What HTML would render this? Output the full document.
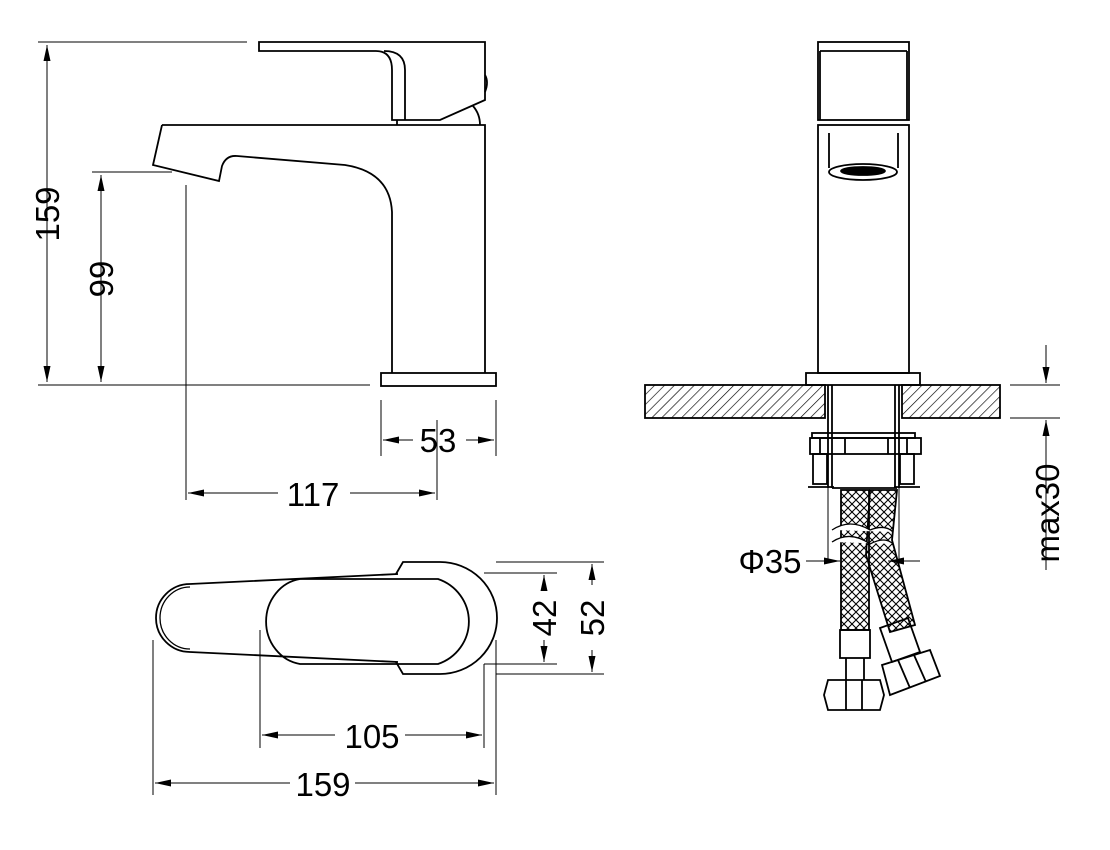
<!DOCTYPE html>
<html><head><meta charset="utf-8"><style>
html,body{margin:0;padding:0;background:#fff}
svg{display:block}
text{font-family:"Liberation Sans",Arial,sans-serif;fill:#000}
</style></head><body>
<svg width="1110" height="850" viewBox="0 0 1110 850" xmlns="http://www.w3.org/2000/svg">
<defs>
<pattern id="h" width="7" height="7" patternUnits="userSpaceOnUse" patternTransform="rotate(45)">
<line x1="0" y1="0" x2="0" y2="7" stroke="#000" stroke-width="1.3"/>
</pattern>
<pattern id="br" width="8" height="8" patternUnits="userSpaceOnUse">
<path d="M0 4 L4 0 M4 8 L8 4 M4 0 L8 4 M0 4 L4 8" stroke="#000" stroke-width="1.1" fill="none"/>
</pattern>
<marker id="a" viewBox="0 0 16 10" refX="16" refY="5" markerWidth="16" markerHeight="10" orient="auto-start-reverse" markerUnits="userSpaceOnUse">
<path d="M0 1.5 L16 5 L0 8.5 Z" fill="#000"/></marker>
</defs>
<g fill="none" stroke="#000" stroke-width="1.8">
<!-- side view -->
<path d="M259 42 H485 V100 L440 120 H392 V70 Q392 51 376 51 H259 Z"/>
<path d="M384 51 Q405 51 405 70 V120"/>
<path d="M485 75 Q489 82 485 92"/>
<path d="M473 106 Q480 114 480 125"/>
<path d="M397 120 V125"/>
<path d="M162 125 H485 V373"/>
<path d="M162 125 L153 165 L219 181 L222 166 Q226 155 237 156 L345 165 Q390 172 392 212 V373"/>
<rect x="381" y="373" width="115" height="13"/>
<!-- front view -->
<rect x="818" y="42" width="91" height="78"/>
<path d="M820 51 V120 M907 51 V120 M820 51 H907"/>
<rect x="818" y="125" width="91" height="248"/>
<path d="M829 133 V168 M898 133 V168"/>
<ellipse cx="863" cy="172" rx="34" ry="8"/>
<ellipse cx="863" cy="171" rx="22" ry="4" fill="#000"/>
<rect x="806" y="373" width="114" height="12"/>
<rect x="645" y="385" width="180" height="33" fill="url(#h)"/>
<rect x="902" y="385" width="98" height="33" fill="url(#h)"/>
<path d="M828 385 V488 M899 385 V488 M832 385 V488 M895 385 V488"/>
<rect x="812" y="433" width="103" height="5"/>
<rect x="810" y="438" width="111" height="16"/>
<path d="M820 438 V454 M907 438 V454 M845 438 V454 M888 438 V454"/>
<rect x="813" y="454" width="14" height="30"/>
<rect x="900" y="454" width="14" height="30"/>
<path d="M808 487 H834 M894 487 H920"/>
<path d="M832 488 H897"/>
<rect x="841" y="490" width="28" height="140" fill="url(#br)"/>
<path d="M870 490 H897 L892 540 L915 625 L890 632 L866 555 Z" fill="url(#br)"/>
<path d="M832 530 Q850 518 870 530 Q885 524 893 532 M832 542 Q850 530 870 544 Q885 536 893 544" stroke-width="1.3" fill="#fff"/>
<rect x="840" y="630" width="30" height="28"/>
<path d="M846 658 V680 M864 658 V680"/>
<path d="M828 680 H880 L884 695 L880 710 H828 L824 695 Z"/>
<path d="M846 680 V710 M862 680 V710"/>
<path d="M880 628 L908 618 L920 652 L892 662 Z"/>
<path d="M882 665 L930 650 L940 676 L890 695 Z"/>
<path d="M898 660 L910 688 M914 655 L926 682"/>
<!-- plan view -->
<path d="M190 584 L398 574 M190 652 L398 662"/>
<path d="M190 584 A34 34 0 0 0 190 652"/>
<path d="M190 587 A30 31 0 0 0 190 649" stroke-width="1.3"/>
<path d="M396 574 L403 562 H440 A57 56 0 0 1 440 674 H403 L396 662"/>
<path d="M300 579 H438 A46 45 0 0 1 438 664 H300 A40 43 0 0 1 300 579 Z"/>
</g>
<!-- dimension lines -->
<g fill="none" stroke="#000" stroke-width="1">
<path d="M38 42 H247 M38 385 H370 M92 172 H172 M186 185 V500 M437 420 V500 M381 400 V456 M496 400 V456"/>
<path d="M47 45 V382" marker-start="url(#a)" marker-end="url(#a)"/>
<path d="M101 175 V382" marker-start="url(#a)" marker-end="url(#a)"/>
<path d="M383 440 H413 M466 440 H494" />
<path d="M383 440 H399" marker-start="url(#a)"/><path d="M478 440 H494" marker-end="url(#a)"/>
<path d="M188 493 H278 M350 493 H435"/>
<path d="M188 493 H204" marker-start="url(#a)"/><path d="M419 493 H435" marker-end="url(#a)"/>
<path d="M1010 385 H1060 M1010 418 H1060"/>
<path d="M1046 345 V383" marker-end="url(#a)"/>
<path d="M1046 570 V420" marker-end="url(#a)"/>
<path d="M828 488 V560 M899 488 V560"/>
<path d="M806 561 H840" marker-end="url(#a)"/>
<path d="M920 561 H888" marker-end="url(#a)"/>
<path d="M484 573 H557 M484 664 H557 M496 562 H604 M496 674 H604"/>
<path d="M544 575 V590 M544 640 V662"/><path d="M544 591 V575" marker-end="url(#a)"/><path d="M544 646 V662" marker-end="url(#a)"/>
<path d="M592 564 V585 M592 650 V672"/><path d="M592 580 V564" marker-end="url(#a)"/><path d="M592 656 V672" marker-end="url(#a)"/>
<path d="M153 640 V795 M260 630 V748 M484 664 V748 M496 640 V795"/>
<path d="M262 735 H335 M405 735 H482"/><path d="M262 735 H278" marker-start="url(#a)"/><path d="M466 735 H482" marker-end="url(#a)"/>
<path d="M155 783 H290 M355 783 H494"/><path d="M155 783 H171" marker-start="url(#a)"/><path d="M478 783 H494" marker-end="url(#a)"/>
</g>
<g font-size="33">
<text transform="translate(59 214) rotate(-90)" text-anchor="middle">159</text>
<text transform="translate(113 279) rotate(-90)" text-anchor="middle">99</text>
<text x="438" y="452" text-anchor="middle">53</text>
<text x="313" y="506" text-anchor="middle">117</text>
<text x="770" y="573" text-anchor="middle">Φ35</text>
<text transform="translate(1059 513) rotate(-90)" text-anchor="middle">max30</text>
<text transform="translate(556 618) rotate(-90)" text-anchor="middle">42</text>
<text transform="translate(604 618) rotate(-90)" text-anchor="middle">52</text>
<text x="372" y="748" text-anchor="middle">105</text>
<text x="323" y="796" text-anchor="middle">159</text>
</g>
</svg>
</body></html>
